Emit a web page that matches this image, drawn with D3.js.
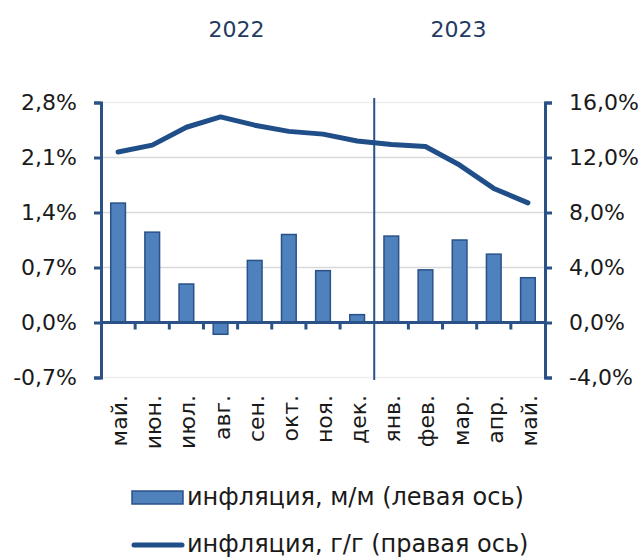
<!DOCTYPE html>
<html>
<head>
<meta charset="utf-8">
<script src="https://cdn.jsdelivr.net/npm/d3@7"></script>
<style>
  body { margin: 0; background: #fff; }
  svg { font-family: "DejaVu Sans", sans-serif; }
</style>
</head>
<body>
<svg id="chart" width="642" height="558"></svg>
<script>
// data
const months = ["май.", "июн.", "июл.", "авг.", "сен.", "окт.", "ноя.", "дек.", "янв.", "фев.", "мар.", "апр.", "май."];
const mom = [1.52, 1.15, 0.49, -0.15, 0.79, 1.12, 0.66, 0.10, 1.10, 0.67, 1.05, 0.87, 0.57];   // левая ось
const yoy = [12.4, 12.9, 14.2, 14.95, 14.35, 13.9, 13.7, 13.2, 12.95, 12.8, 11.45, 9.75, 8.7]; // правая ось
const leftTicks = [-0.7, 0, 0.7, 1.4, 2.1, 2.8];
const rightTicks = [-4, 0, 4, 8, 12, 16];
const years = [{ label: "2022", from: 0, to: 8 }, { label: "2023", from: 8, to: 13 }];
const legendLabels = ["инфляция, м/м (левая ось)", "инфляция, г/г (правая ось)"];

const blue = "#4f81bd", dark = "#1f4e89", axisCol = "#2b5286";
const svg = d3.select("#chart");
const x0 = 101, x1 = 545, yTop = 102.5, yBot = 377.5;

const x = d3.scaleBand().domain(d3.range(months.length)).range([x0, x1]).paddingInner(0.57).paddingOuter(0.285);
const xb = d3.scaleLinear().domain([0, months.length]).range([x0, x1]);
const yL = d3.scaleLinear().domain([-0.7, 2.8]).range([yBot, yTop]);
const yR = d3.scaleLinear().domain([-4, 16]).range([yBot, yTop]);
const fmt = d => d.toFixed(1).replace(".", ",") + "%";

// gridlines
svg.append("g").selectAll("line").data(leftTicks).join("line")
  .attr("x1", x0).attr("x2", x1)
  .attr("y1", d => yL(d)).attr("y2", d => yL(d))
  .attr("stroke", d => (d === 2.8 || d === -0.7) ? "#efefef" : "#d9d9d9").attr("stroke-width", 1.5);

// bars
svg.append("g").selectAll("rect").data(mom).join("rect")
  .attr("x", (d, i) => x(i)).attr("width", x.bandwidth())
  .attr("y", d => yL(Math.max(0, d))).attr("height", d => Math.abs(yL(d) - yL(0)))
  .attr("fill", blue).attr("stroke", "#2a5189").attr("stroke-width", 1.5);

// left axis
const axL = svg.append("g").attr("transform", `translate(${x0},0)`)
  .call(d3.axisLeft(yL).tickValues(leftTicks).tickFormat(fmt).tickSize(7).tickPadding(17));
// right axis
const axR = svg.append("g").attr("transform", `translate(${x1},0)`)
  .call(d3.axisRight(yR).tickValues(rightTicks).tickFormat(fmt).tickSize(7).tickPadding(17));
[axL, axR].forEach(a => {
  a.select(".domain").attr("stroke", axisCol).attr("stroke-width", 3);
  a.selectAll(".tick line").attr("stroke", axisCol).attr("stroke-width", 3);
  a.selectAll(".tick text").attr("font-size", 22).attr("fill", "#1a1a1a").attr("font-family", "DejaVu Sans");
});

// zero line with ticks at category boundaries
svg.append("line").attr("x1", x0).attr("x2", x1).attr("y1", yL(0)).attr("y2", yL(0))
  .attr("stroke", axisCol).attr("stroke-width", 3);
svg.append("g").selectAll("line").data(d3.range(1, months.length).filter(i => i !== 8)).join("line")
  .attr("x1", d => xb(d)).attr("x2", d => xb(d))
  .attr("y1", yL(0)).attr("y2", yL(0) + 7)
  .attr("stroke", axisCol).attr("stroke-width", 3);

// year divider
svg.append("line").attr("x1", xb(8)).attr("x2", xb(8)).attr("y1", 98).attr("y2", 380)
  .attr("stroke", axisCol).attr("stroke-width", 2);

// year labels
svg.append("g").selectAll("text").data(years).join("text")
  .attr("x", d => (xb(d.from) + xb(d.to)) / 2 - 1).attr("y", 37)
  .attr("text-anchor", "middle").attr("font-size", 22).attr("fill", "#1f3b63")
  .text(d => d.label);

// month labels
svg.append("g").selectAll("text").data(months).join("text")
  .attr("transform", (d, i) => `translate(${x(i) + x.bandwidth() / 2 + 9},395) rotate(-90)`)
  .attr("text-anchor", "end").attr("font-size", 22).attr("fill", "#1a1a1a")
  .text(d => d);

// y/y line
svg.append("path").datum(yoy)
  .attr("d", d3.line().x((d, i) => x(i) + x.bandwidth() / 2).y(d => yR(d)))
  .attr("fill", "none").attr("stroke", dark).attr("stroke-width", 5)
  .attr("stroke-linejoin", "round").attr("stroke-linecap", "round");

// legend
const lg = svg.append("g");
lg.append("rect").attr("x", 132).attr("y", 491).attr("width", 51).attr("height", 13)
  .attr("fill", blue).attr("stroke", "#2a5189").attr("stroke-width", 1.5);
lg.append("line").attr("x1", 134).attr("x2", 182).attr("y1", 545).attr("y2", 545)
  .attr("stroke", dark).attr("stroke-width", 5).attr("stroke-linecap", "round");
lg.selectAll("text").data(legendLabels).join("text")
  .attr("x", 187).attr("y", (d, i) => 505 + i * 47)
  .attr("font-size", 24).attr("fill", "#1a1a1a")
  .text(d => d);
</script>
</body>
</html>
